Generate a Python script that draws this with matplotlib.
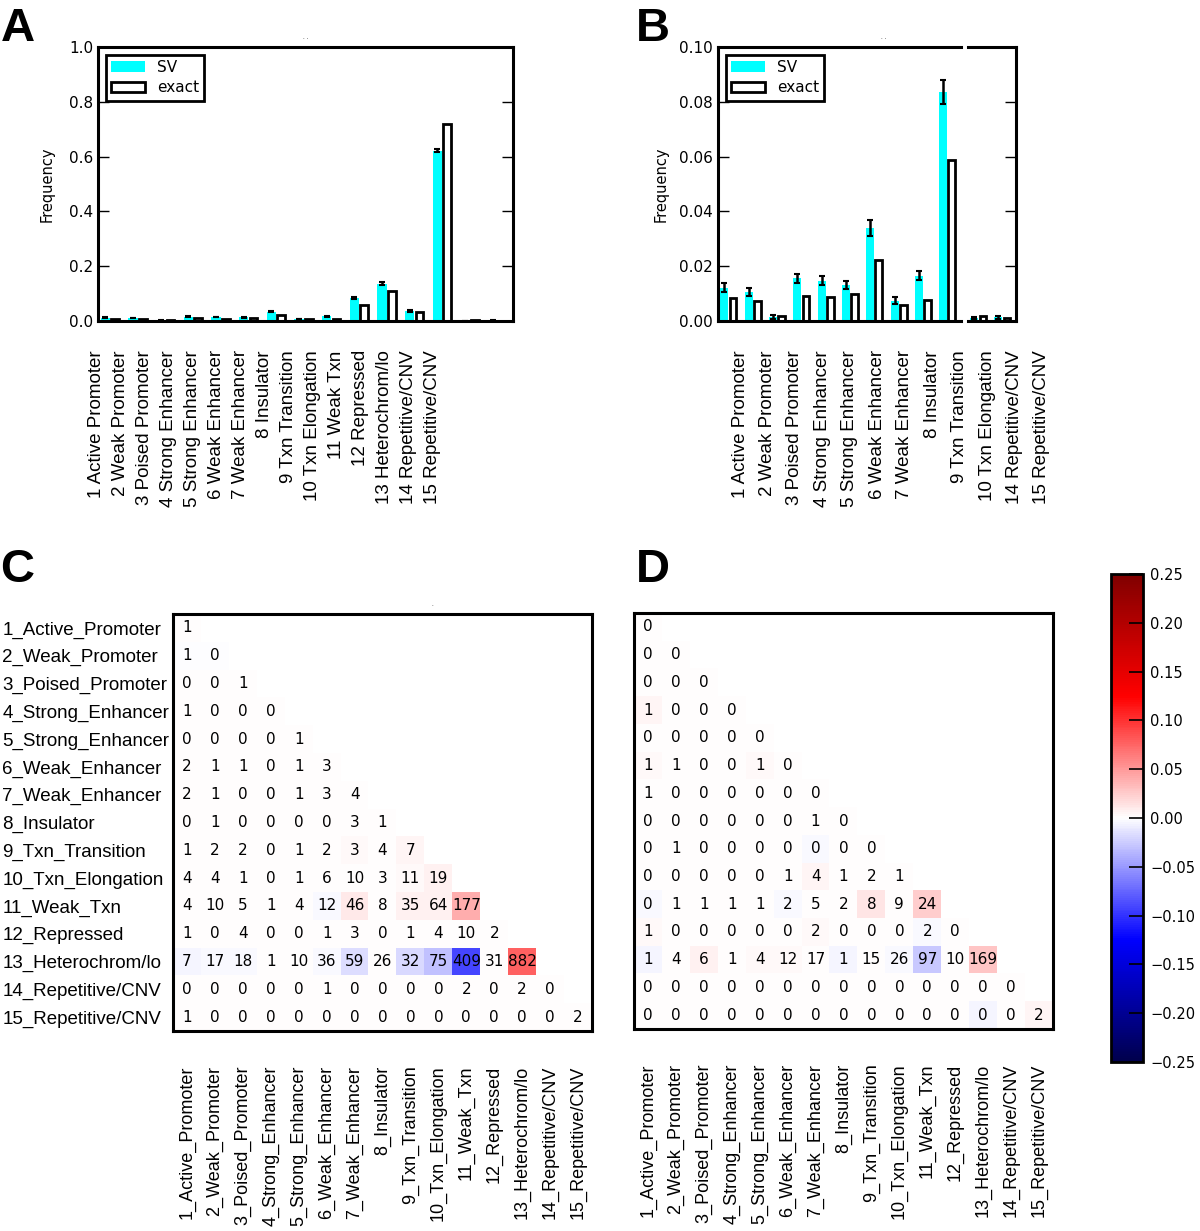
import numpy as np
import matplotlib
matplotlib.use("Agg")
import matplotlib.pyplot as plt
from matplotlib.ticker import FormatStrFormatter, FuncFormatter

# --- bar data (panels A and B) ---
bar_labels = ["1 Active Promoter", "2 Weak Promoter", "3 Poised Promoter",
              "4 Strong Enhancer", "5 Strong Enhancer", "6 Weak Enhancer",
              "7 Weak Enhancer", "8 Insulator", "9 Txn Transition",
              "10 Txn Elongation", "11 Weak Txn", "12 Repressed",
              "13 Heterochrom/lo", "14 Repetitive/CNV", "15 Repetitive/CNV"]
sv_freq = [0.0121, 0.0107, 0.0016, 0.0156, 0.0147, 0.0131, 0.0340, 0.0074,
           0.0165, 0.0836, 0.136, 0.037, 0.621, 0.0010, 0.0013]
sv_err = [0.0016, 0.0015, 0.0007, 0.0017, 0.0017, 0.0016, 0.0029, 0.0012,
          0.0017, 0.0044, 0.005, 0.003, 0.005, 0.0003, 0.0006]
exact_freq = [0.0083, 0.0074, 0.0019, 0.0092, 0.0089, 0.0100, 0.0224, 0.0057,
              0.0075, 0.0586, 0.111, 0.034, 0.718, 0.0019, 0.0011]

# panel B keeps states 1-10 on the left part and 14-15 on the right part
b_left = list(range(10))
b_right = [13, 14]

# --- heatmap data (panels C and D), lower triangle rows ---
state_names = ["1_Active_Promoter", "2_Weak_Promoter", "3_Poised_Promoter",
               "4_Strong_Enhancer", "5_Strong_Enhancer", "6_Weak_Enhancer",
               "7_Weak_Enhancer", "8_Insulator", "9_Txn_Transition",
               "10_Txn_Elongation", "11_Weak_Txn", "12_Repressed",
               "13_Heterochrom/lo", "14_Repetitive/CNV", "15_Repetitive/CNV"]

counts_c = [
    [1],
    [1, 0],
    [0, 0, 1],
    [1, 0, 0, 0],
    [0, 0, 0, 0, 1],
    [2, 1, 1, 0, 1, 3],
    [2, 1, 0, 0, 1, 3, 4],
    [0, 1, 0, 0, 0, 0, 3, 1],
    [1, 2, 2, 0, 1, 2, 3, 4, 7],
    [4, 4, 1, 0, 1, 6, 10, 3, 11, 19],
    [4, 10, 5, 1, 4, 12, 46, 8, 35, 64, 177],
    [1, 0, 4, 0, 0, 1, 3, 0, 1, 4, 10, 2],
    [7, 17, 18, 1, 10, 36, 59, 26, 32, 75, 409, 31, 882],
    [0, 0, 0, 0, 0, 1, 0, 0, 0, 0, 2, 0, 2, 0],
    [1, 0, 0, 0, 0, 0, 0, 0, 0, 0, 0, 0, 0, 0, 2],
]
delta_c = [
    [0],
    [-0.001, -0.001],
    [0, 0, 0],
    [0, 0, 0, 0],
    [0, 0, 0, 0, 0],
    [0, 0, 0, 0, 0, 0],
    [0, 0, 0, 0, 0, 0, 0],
    [0, 0, 0, 0, 0, 0, 0, 0],
    [0, 0, 0, 0, 0, 0, 0.002, 0, 0.004],
    [0, 0, 0, 0, 0, 0, 0, 0, 0.003, 0.006],
    [0, 0, 0, 0, 0, -0.003, 0.011, 0, 0.006, 0.007, 0.040],
    [0, 0, 0, 0, 0, 0, 0, 0, 0, 0, 0, 0],
    [-0.004, -0.003, -0.002, 0, 0, -0.003, -0.017, 0, -0.019, -0.031, -0.090, 0, 0.078],
    [0, 0, 0, 0, 0, 0, 0, 0, 0, 0, 0, 0, 0, 0],
    [0, 0, 0, 0, 0, 0, 0, 0, 0, 0, 0, 0, 0, 0, 0],
]

counts_d = [
    [0],
    [0, 0],
    [0, 0, 0],
    [1, 0, 0, 0],
    [0, 0, 0, 0, 0],
    [1, 1, 0, 0, 1, 0],
    [1, 0, 0, 0, 0, 0, 0],
    [0, 0, 0, 0, 0, 0, 1, 0],
    [0, 1, 0, 0, 0, 0, 0, 0, 0],
    [0, 0, 0, 0, 0, 1, 4, 1, 2, 1],
    [0, 1, 1, 1, 1, 2, 5, 2, 8, 9, 24],
    [1, 0, 0, 0, 0, 0, 2, 0, 0, 0, 2, 0],
    [1, 4, 6, 1, 4, 12, 17, 1, 15, 26, 97, 10, 169],
    [0, 0, 0, 0, 0, 0, 0, 0, 0, 0, 0, 0, 0, 0],
    [0, 0, 0, 0, 0, 0, 0, 0, 0, 0, 0, 0, 0, 0, 2],
]
delta_d = [
    [0],
    [0, 0],
    [0, 0, 0],
    [0.004, 0, 0, 0],
    [0, 0, 0, 0, 0],
    [0.003, 0, 0, 0, 0.003, 0],
    [0, 0, 0, 0, 0, 0, 0],
    [0, 0, 0, 0, 0, 0, 0, 0],
    [0, 0, 0, 0, 0, 0, -0.002, 0, 0],
    [0, 0, 0, 0, 0, 0, 0.005, 0, 0, 0],
    [-0.002, 0, 0, 0, 0, -0.002, 0, 0, 0.012, 0, 0.024],
    [0.003, 0, 0, 0, 0, 0, 0.003, 0, 0, 0, -0.002, 0],
    [-0.005, 0, 0.006, 0, 0.002, 0.002, 0, -0.004, 0, -0.002, -0.027, 0, 0.028],
    [0, 0, 0, 0, 0, 0, 0, 0, 0, 0, 0, 0, 0, 0],
    [0, 0, 0, 0, 0, 0, 0, 0, 0, 0, 0, 0, -0.004, 0, 0.004],
]

cbar_ticks = [-0.25, -0.20, -0.15, -0.10, -0.05, 0.0, 0.05, 0.10, 0.15, 0.20, 0.25]

SV_COLOR = "#00ffff"
LABEL_FONT = "Liberation Sans"
W, H = 1200, 1231


def fig_rect(x0, y0, x1, y1):
    """pixel box (top-left origin) -> figure fraction rect"""
    return [x0 / W, 1 - y1 / H, (x1 - x0) / W, (y1 - y0) / H]


def tri_matrix(rows):
    n = len(rows)
    m = np.full((n, n), np.nan)
    for i, r in enumerate(rows):
        m[i, :len(r)] = r
    return m


def style_bar_axes(ax, left=True, right=True):
    for s in ax.spines.values():
        s.set_linewidth(2.2)
    ax.tick_params(axis="y", direction="in", length=8, width=1,
                   left=left, right=right, labelleft=left, labelsize=11)
    ax.tick_params(axis="x", length=0, labelbottom=False)


def draw_bars(ax, idx):
    x = np.arange(len(idx))
    sv = [sv_freq[i] for i in idx]
    err = [sv_err[i] for i in idx]
    ex = [exact_freq[i] for i in idx]
    ax.bar(x + 0.1, sv, width=0.33, align="edge", color=SV_COLOR,
           edgecolor="none", label="SV")
    ax.bar(x + 0.48, ex, width=0.28, align="edge", color="white",
           edgecolor="black", linewidth=2, label="exact")
    ax.errorbar(x + 0.265, sv, yerr=err, fmt="none", ecolor="black",
                elinewidth=1.8, capsize=2, capthick=1.5)
    ax.set_xlim(0, len(idx))


def label_strip(rect, labels):
    # separate strip carrying the rotated category labels
    lax = fig.add_axes(rect, frameon=False)
    lax.patch.set_visible(False)
    lax.set_xlim(-0.5, len(labels) - 0.5)
    lax.set_xticks(np.arange(len(labels)))
    lax.set_xticklabels(labels, rotation=90, fontsize=13.5, family=LABEL_FONT)
    lax.tick_params(axis="x", length=0, pad=21)
    lax.set_yticks([])


def legend(ax):
    leg = ax.legend(loc="upper left", fontsize=11, fancybox=False,
                    framealpha=1, borderaxespad=0.5, handlelength=2.2,
                    borderpad=0.35, labelspacing=0.35)
    leg.get_frame().set_edgecolor("black")
    leg.get_frame().set_linewidth(2)


def draw_heatmap(ax, counts, delta, ylabels):
    vals = tri_matrix(delta)
    cnt = tri_matrix(counts)
    n = vals.shape[0]
    cmap = plt.get_cmap("seismic").copy()
    cmap.set_bad("white")
    im = ax.imshow(np.ma.masked_invalid(vals), cmap=cmap, vmin=-0.25, vmax=0.25,
                   interpolation="nearest", aspect="auto",
                   extent=(-0.5, n - 0.5, n - 0.5, -0.5))
    for i in range(n):
        for j in range(i + 1):
            ax.text(j, i, "%d" % cnt[i, j], ha="center", va="center",
                    fontsize=11, color="black")
    for s in ax.spines.values():
        s.set_linewidth(2.2)
    ax.set_xticks(np.arange(n))
    ax.set_xticklabels(state_names, rotation=90, fontsize=13, family=LABEL_FONT)
    ax.tick_params(axis="x", length=0, pad=25)
    ax.set_yticks(np.arange(n))
    if ylabels:
        ax.set_yticklabels(state_names, fontsize=13.5, family=LABEL_FONT)
        for t in ax.get_yticklabels():
            t.set_ha("left")
        ax.tick_params(axis="y", length=0, pad=123)
    else:
        ax.tick_params(axis="y", length=0, labelleft=False)
    return im


fig = plt.figure(figsize=(12, 12.31), dpi=100)

# ---- A ----
ax_a = fig.add_axes(fig_rect(98, 47, 513, 321))
draw_bars(ax_a, list(range(15)))
ax_a.set_ylim(0, 1.0)
ax_a.yaxis.set_major_formatter(FormatStrFormatter("%.1f"))
style_bar_axes(ax_a)
ax_a.set_ylabel("Frequency", fontsize=10.5, labelpad=10)
ax_a.set_title(". .", fontsize=4, pad=6)
legend(ax_a)
label_strip(fig_rect(84.7, 47, 444.7, 321), bar_labels)

# ---- B (broken x axis) ----
ax_b1 = fig.add_axes(fig_rect(718, 47, 961, 321))
ax_b2 = fig.add_axes(fig_rect(968, 47, 1016, 321))
draw_bars(ax_b1, b_left)
draw_bars(ax_b2, b_right)
for ax in (ax_b1, ax_b2):
    ax.set_ylim(0, 0.10)
    ax.yaxis.set_major_formatter(FormatStrFormatter("%.2f"))
style_bar_axes(ax_b1, left=True, right=False)
style_bar_axes(ax_b2, left=False, right=True)
ax_b1.spines["right"].set_visible(False)
ax_b2.spines["left"].set_visible(False)
ax_b1.set_ylabel("Frequency", fontsize=10.5, labelpad=8)
ax_b1.set_title(". .", fontsize=4, pad=6, x=0.68)
legend(ax_b1)
label_strip(fig_rect(726.3, 47, 1055.7, 321),
            [bar_labels[i] for i in b_left + b_right])

# ---- C and D ----
ax_c = fig.add_axes(fig_rect(173, 614, 592, 1031))
im = draw_heatmap(ax_c, counts_c, delta_c, ylabels=True)
ax_c.set_title(".", fontsize=4, pad=6, x=0.62)
ax_d = fig.add_axes(fig_rect(634, 613, 1053, 1029))
draw_heatmap(ax_d, counts_d, delta_d, ylabels=False)

cax = fig.add_axes(fig_rect(1111, 574, 1143, 1062))
cb = fig.colorbar(im, cax=cax, ticks=cbar_ticks)
cb.outline.set_linewidth(2)
cb.ax.tick_params(direction="in", length=10, width=1.2, labelsize=10.5, pad=5)
cb.ax.yaxis.set_major_formatter(
    FuncFormatter(lambda v, pos: ("%.2f" % v).replace("-", "\u2212")))

# panel letters
for letter, px, py in [("A", 1, 41), ("B", 636, 41), ("C", 0, 582), ("D", 636, 582)]:
    fig.text(px / W, 1 - py / H, letter, fontsize=34, fontweight="bold",
             family=LABEL_FONT, ha="left", va="baseline")

fig.savefig("out.png", dpi=100)
